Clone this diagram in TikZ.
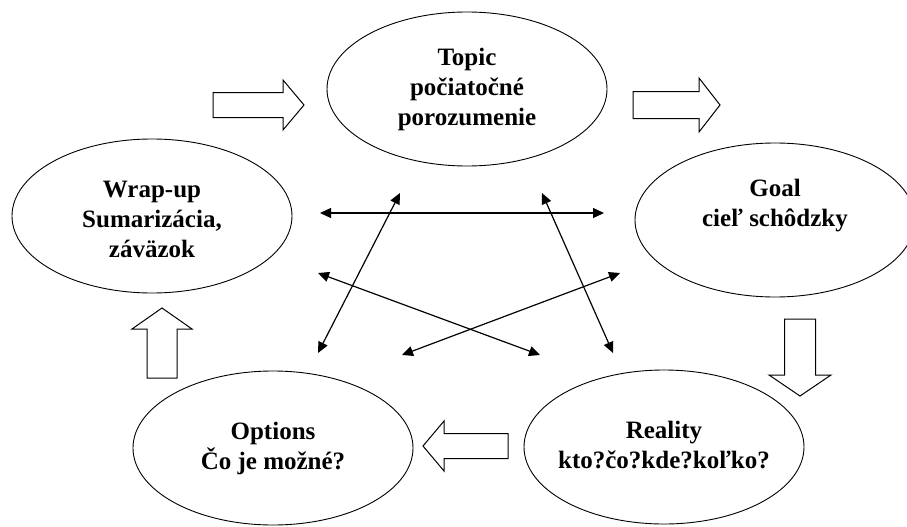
\documentclass[tikz,border=0pt]{standalone}
\usepackage{fontspec}
\setmainfont{Liberation Serif}
\usetikzlibrary{shapes.geometric,arrows.meta}

\begin{document}
\begin{tikzpicture}[x=1pt, y=-1pt]
\tikzstyle{phase} = [ellipse, draw, line width=0.9pt, minimum width=280pt, minimum height=154pt, inner sep=0pt]
\tikzstyle{txt} = [align=center, font=\bfseries\fontsize{25}{30}\selectfont, inner sep=0pt]
\tikzstyle{link} = [draw, line width=1.2pt, {Triangle[length=11pt,width=10pt]}-{Triangle[length=11pt,width=10pt]}]
\tikzset{pics/flow/.style n args={2}{code={
  \draw[line width=1pt, line join=miter] (0,0) -- (-21,2*#2) -- (-21,#2) -- (-#1,#2) -- (-#1,-#2) -- (-21,-#2) -- (-21,-2*#2) -- cycle;}}}

\useasboundingbox (0,0) rectangle (907,527);

% the five phases
\node [phase, label={[txt]center:Topic\\počiatočné\\porozumenie}] (topic) at (467,89) {};
\node [phase, label={[txt, yshift=14pt]center:Goal\\cieľ schôdzky}] (goal) at (775,220) {};
\node [phase, label={[txt, yshift=2pt]center:Reality\\kto?čo?kde?koľko?}] (reality) at (664,447) {};
\node [phase, label={[txt]center:Options\\Čo je možné?}] (options) at (273,448) {};
\node [phase, label={[txt, yshift=-3pt]center:Wrap-up\\Sumarizácia,\\záväzok}] (wrapup) at (152,216) {};

% hollow arrows round the cycle
\pic at (304,105) {flow={91}{12.5}};
\pic at (720,105) {flow={87}{13.5}};
\pic[rotate=-90] at (800,396) {flow={77}{15.5}};
\pic[rotate=180] at (423,446) {flow={85}{12.5}};
\pic[rotate=90] at (162,308) {flow={70}{15}};

% links in the middle
\coordinate (h1) at (320,213);
\coordinate (h2) at (604,213);
\coordinate (l1) at (400,193);
\coordinate (l2) at (318,353);
\coordinate (r1) at (542,193);
\coordinate (r2) at (613,353);
\coordinate (a1) at (318,273);
\coordinate (a2) at (540,355);
\coordinate (b1) at (620,273);
\coordinate (b2) at (402,355);

\path [link] (h1) -- (h2);
\path [link] (l1) -- (l2);
\path [link] (r1) -- (r2);
\path [link] (a1) -- (a2);
\path [link] (b1) -- (b2);
\end{tikzpicture}
\end{document}
